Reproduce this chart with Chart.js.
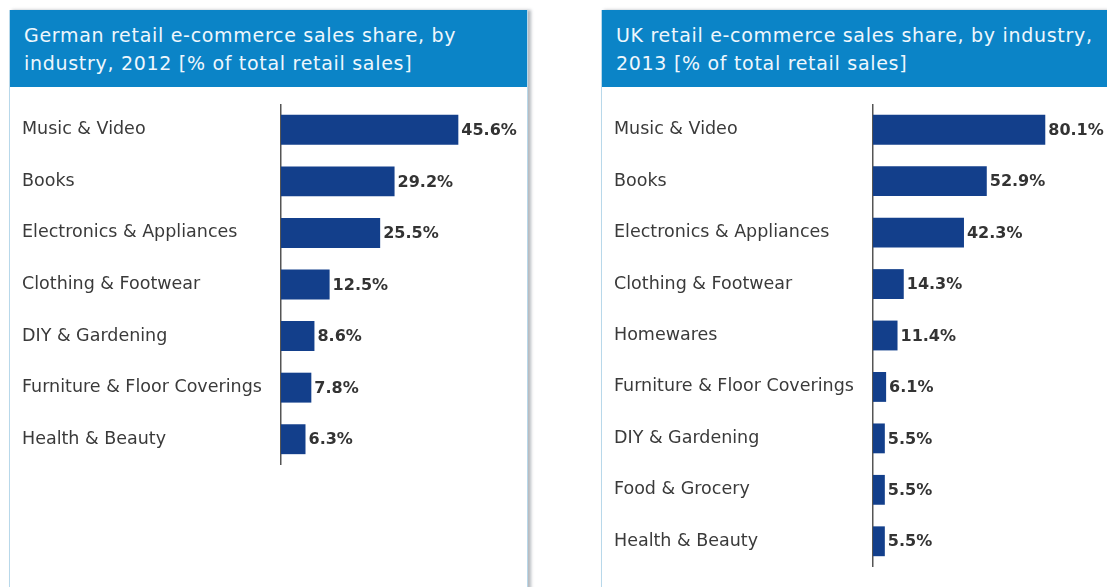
<!DOCTYPE html>
<html>
<head>
<meta charset="utf-8">
<script src="https://cdn.jsdelivr.net/npm/chart.js@4"></script>
<style>
  html, body { margin: 0; padding: 0; background: #fff; }
  body { width: 1107px; height: 587px; position: relative; overflow: hidden; font-family: "DejaVu Sans", sans-serif; }
  .panel {
    position: absolute; top: 10px; height: 600px;
    border-left: 1px solid #b8d8ea; border-right: 1px solid #b8d8ea;
    box-shadow: 3px 0 3px rgba(90,100,110,.45);
    background: #fff;
  }
  .panel .head {
    height: 77px; background: #0b84c7; color: #eef7fd;
    font-size: 19px; letter-spacing: 0.7px; line-height: 28px; padding: 11px 0 0 14px; box-sizing: border-box;
  }
  .chart { position: absolute; top: 104px; }
</style>
</head>
<body>

<div class="panel" style="left:9px;width:517px">
  <div class="head">German retail e-commerce sales share, by<br>industry, 2012 [% of total retail sales]</div>
</div>
<div class="panel" style="left:601px;width:530px">
  <div class="head">UK retail e-commerce sales share, by industry,<br>2013 [% of total retail sales]</div>
</div>

<div class="chart" style="left:22px;width:504px;height:361px"><canvas id="deChart"></canvas></div>
<div class="chart" style="left:614px;width:493px;height:463px"><canvas id="ukChart"></canvas></div>

<script>
// Germany 2012
const deLabels = ['Music & Video', 'Books', 'Electronics & Appliances', 'Clothing & Footwear',
  'DIY & Gardening', 'Furniture & Floor Coverings', 'Health & Beauty'];
const deValues = [45.6, 29.2, 25.5, 12.5, 8.6, 7.8, 6.3];

// UK 2013
const ukLabels = ['Music & Video', 'Books', 'Electronics & Appliances', 'Clothing & Footwear',
  'Homewares', 'Furniture & Floor Coverings', 'DIY & Gardening', 'Food & Grocery', 'Health & Beauty'];
const ukValues = [80.1, 52.9, 42.3, 14.3, 11.4, 6.1, 5.5, 5.5, 5.5];

const BAR = '#133f8b';

// value text right of each bar
const valueLabels = {
  id: 'valueLabels',
  afterDatasetsDraw(chart) {
    const ctx = chart.ctx;
    const ds = chart.data.datasets[0];
    ctx.save();
    ctx.font = 'bold 16px "DejaVu Sans"';
    ctx.fillStyle = '#333';
    ctx.textBaseline = 'middle';
    chart.getDatasetMeta(0).data.forEach((bar, i) => {
      ctx.fillText(ds.data[i].toFixed(1) + '%', bar.x + 3, bar.y + 1);
    });
    ctx.restore();
  }
};

function makeHBar(id, labels, data, max) {
  return new Chart(document.getElementById(id), {
    type: 'bar',
    data: { labels, datasets: [{ data, backgroundColor: BAR, barPercentage: 0.58, categoryPercentage: 1 }] },
    options: {
      indexAxis: 'y',
      responsive: true,
      maintainAspectRatio: false,
      animation: false,
      layout: { padding: 0 },
      plugins: { legend: { display: false }, tooltip: { enabled: false } },
      scales: {
        x: { display: false, min: 0, max },
        y: {
          grid: { display: false, drawTicks: false },
          border: { display: true, color: '#555', width: 1.5 },
          ticks: { crossAlign: 'far', padding: 0, color: '#3a3a3a', font: { family: 'DejaVu Sans', size: 17.5 } },
          // fixed label column, no extra room above/below the bars
          afterFit: s => { s.width = 259; s.paddingTop = 0; s.paddingBottom = 0; }
        }
      }
    },
    plugins: [valueLabels]
  });
}

makeHBar('deChart', deLabels, deValues, 63);
makeHBar('ukChart', ukLabels, ukValues, 108.8);
</script>
</body>
</html>
